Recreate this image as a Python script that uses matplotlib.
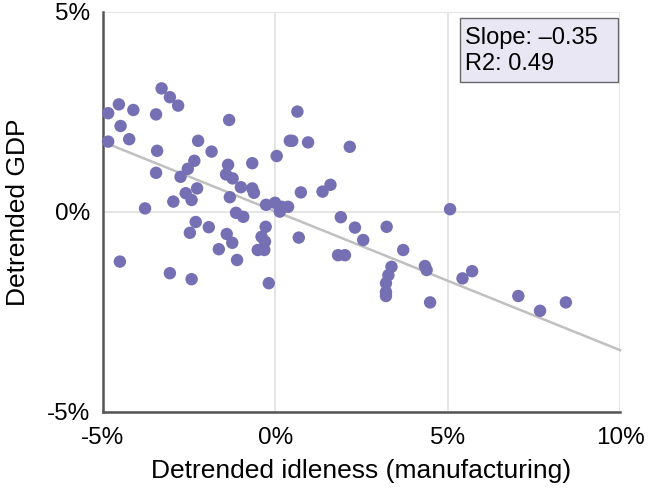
import matplotlib
matplotlib.use("Agg")
import matplotlib.pyplot as plt
from matplotlib.patches import Rectangle

plt.rcParams['font.family'] = ['Liberation Sans', 'DejaVu Sans']

# Detrended idleness (manufacturing), %
idleness = [-4.85, -4.54, -4.12, -4.49, -4.85, -4.24, -3.30, -3.06, -2.82, -3.46,
            -1.34, -2.24, -3.43, -1.85, -3.46, -2.35, -2.54, -2.75, -1.37, -0.67,
            0.04, -1.43, -1.24, -1.00, -0.67, -0.62, -2.27, -2.60, -2.43, -1.32,
            -2.96, -3.78, -0.27, -0.01, 0.18, 0.37, 0.13, 0.42, -1.14, -0.93,
            -2.31, -2.48, -1.93, -1.41, -1.25, -1.64, -1.11, -0.28, -0.40, -0.30,
            -0.51, -0.32, -0.19, -4.51, -3.06, -2.43, 0.64, 0.49, 0.95, 2.16,
            0.74, 1.37, 1.60, 1.90, 2.31, 2.55, 0.68, 1.82, 2.02, 5.07,
            3.23, 3.71, 3.37, 3.28, 3.21, 3.21, 3.21, 4.34, 4.39, 4.49,
            5.43, 5.71, 7.05, 7.68, 8.43]
# Detrended GDP, %
gdp = [2.47, 2.69, 2.55, 2.15, 1.76, 1.82, 3.09, 2.87, 2.66, 2.44,
       2.30, 1.78, 1.53, 1.51, 0.98, 1.28, 1.08, 0.88, 1.18, 1.22,
       1.40, 0.94, 0.84, 0.62, 0.59, 0.48, 0.59, 0.47, 0.30, 0.37,
       0.26, 0.09, 0.18, 0.23, 0.13, 0.13, 0.01, 1.78, -0.02, -0.12,
       -0.25, -0.52, -0.38, -0.55, -0.77, -0.93, -1.20, -0.37, -0.62, -0.74,
       -0.95, -0.95, -1.78, -1.24, -1.53, -1.68, 2.51, 1.78, 1.74, 1.63,
       0.49, 0.51, 0.68, -0.13, -0.39, -0.70, -0.64, -1.08, -1.08, 0.07,
       -0.37, -0.95, -1.37, -1.58, -1.78, -2.00, -2.10, -1.35, -1.45, -2.26,
       -1.66, -1.48, -2.10, -2.47, -2.26]

fit_slope = -0.347
fit_intercept = 0.017
fit_x = [-5, 10]

x_ticks = [-5, 0, 5, 10]
y_ticks = [-5, 0, 5]

fig = plt.figure(figsize=(6.51, 4.88), dpi=100)
ax = fig.add_axes([103/651, 1 - 412/488, (620-103)/651, (412-12)/488])

ax.set_xlim(-5, 10)
ax.set_ylim(-5, 5)
ax.set_xticks(x_ticks)
ax.set_yticks(y_ticks)
ax.set_xticklabels([f"{t}%" for t in x_ticks])
ax.set_yticklabels([f"{t}%" for t in y_ticks])
ax.grid(True, color='#e3e3e3', linewidth=1.3, zorder=0)
ax.set_axisbelow(True)
for s in ['top', 'right']:
    ax.spines[s].set_visible(False)
for s in ['left', 'bottom']:
    ax.spines[s].set_color('#555555')
    ax.spines[s].set_linewidth(1.8)
ax.tick_params(length=0, labelsize=17.5, colors='black')
ax.tick_params(axis='x', pad=10.5)
ax.tick_params(axis='y', pad=9)

fy = [fit_intercept + fit_slope * v for v in fit_x]
ax.plot(fit_x, fy, color='#c0c0c0', linewidth=1.8, zorder=2, clip_on=False)

ax.scatter(idleness, gdp, s=80, color='#7570b3', edgecolors='none', zorder=3, clip_on=False)

ax.set_xlabel("Detrended idleness (manufacturing)", fontsize=19)
ax.set_ylabel("Detrended GDP", fontsize=19)
ax.xaxis.set_label_coords(0.5, -0.118)
ax.yaxis.set_label_coords(-0.141, 0.5)

ax.add_patch(Rectangle((0.6905, 0.825), 0.996 - 0.6905, 0.985 - 0.825,
                       transform=ax.transAxes, facecolor='#e9e7f3',
                       edgecolor='#666666', linewidth=1, zorder=4, clip_on=False))
ax.text(0.700, 0.963, "Slope: \u20130.35\nR2: 0.49", transform=ax.transAxes,
        ha='left', va='top', fontsize=17, linespacing=1.27, zorder=5)

fig.savefig("out.png", dpi=100)
